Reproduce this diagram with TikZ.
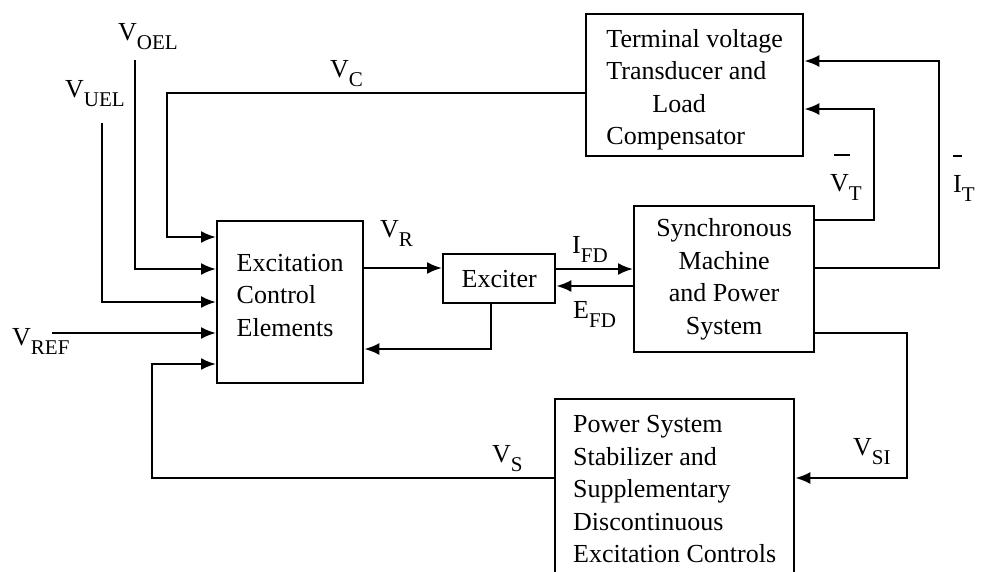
\documentclass[tikz,border=0pt]{standalone}
\usepackage{fontspec}
\setmainfont{Liberation Serif}
\usepackage{tikz}
\usetikzlibrary{arrows.meta,positioning,calc}
\newcommand{\lab}[2]{#1\raisebox{-9pt}{\fontsize{21}{21}\selectfont #2}}
\newcommand{\barre}[2]{\hspace*{#1}\rule[3pt]{#2}{1.8pt}}

\begin{document}
\begin{tikzpicture}[x=1pt,y=-1pt,font=\fontsize{26}{32.5}\selectfont,
  blk/.style={draw,line width=2.3pt,inner sep=0pt},
  sig/.style={line width=2.3pt,-{Latex[length=15pt,width=12pt]}}]
  \useasboundingbox (0,0) rectangle (981,571);
  \clip (0,0) rectangle (981,571);
  % blocs
  \node[blk,minimum width=146,minimum height=162,align=left,anchor=north west] (ece) at (216,220) {Excitation\\Control\\Elements\\[-18pt]\mbox{}};
  \node[blk,minimum width=112,minimum height=49,anchor=north west] (exc) at (442,253) {Exciter};
  \node[blk,minimum width=180,minimum height=146,align=center,anchor=north west] (sm) at (633,205) {Synchronous\\Machine\\and Power\\System};
  \node[blk,minimum width=217,minimum height=142,align=left,anchor=north west] (tvt) at (585,13) {\mbox{}\\[-5pt]Terminal voltage\\Transducer and\\\hspace*{46pt}Load\\Compensator};
  \node[blk,minimum width=239,minimum height=180,align=left,anchor=north west] (pss) at (554,398) {Power System\\Stabilizer and\\Supplementary\\Discontinuous\\Excitation Controls};
  % entrees libres
  \coordinate (voel) at (135,60);
  \coordinate (vuel) at (102,123);
  \coordinate (vref) at (52,333);
  % liaisons
  \draw[sig] (tvt.west |- 0,93) -| (167,237) -- (ece.west |- 0,237);
  \draw[sig] (voel) |- (ece.west |- 0,269);
  \draw[sig] (vuel) |- (ece.west |- 0,302);
  \draw[sig] (vref) -- (ece.west |- 0,333);
  \draw[sig] (pss.west |- 0,478) -| (152,364) -- (ece.west |- 0,364);
  \draw[sig] (ece.east |- 0,268) -- (exc.west |- 0,268);
  \draw[sig] ($(exc.south)+(-8,0)$) |- (ece.east |- 0,349);
  \draw[sig] (exc.east |- 0,269) -- (sm.west |- 0,269);
  \draw[sig] (sm.west |- 0,286) -- (exc.east |- 0,286);
  \draw[sig] (sm.east |- 0,220) -| (874,109) -- (tvt.east |- 0,109);
  \draw[sig] (sm.east |- 0,268) -| (939,61) -- (tvt.east |- 0,61);
  \draw[sig] (sm.east |- 0,333) -| (907,478) -- (pss.east |- 0,478);
  % etiquettes
  \node[anchor=base west,inner sep=0pt] (lvoel) at (118,40) {\lab{V}{OEL}};
  \node[anchor=base west,inner sep=0pt] (lvuel) at (65,97) {\lab{V}{UEL}};
  \node[anchor=base west,inner sep=0pt] (lvc) at (330,77) {\lab{V}{C}};
  \node[anchor=base west,inner sep=0pt] (lvr) at (380,237) {\lab{V}{R}};
  \node[anchor=base west,inner sep=0pt] (lvref) at (12,345) {\lab{V}{REF}};
  \node[anchor=base west,inner sep=0pt] (lifd) at (572,253) {\lab{I}{FD}};
  \node[anchor=base west,inner sep=0pt] (lefd) at (573,318) {\lab{E}{FD}};
  \node[anchor=base west,inner sep=0pt] (lvsi) at (853,455) {\lab{V}{SI}};
  \node[anchor=base west,inner sep=0pt] (lvs) at (492,462) {\lab{V}{S}};
  \node[anchor=base west,inner sep=0pt,align=left] (lvt) at (830,191) {\barre{4pt}{16pt}\\\lab{V}{T}};
  \node[anchor=base west,inner sep=0pt,align=left] (lit) at (953,192) {\barre{0pt}{9pt}\\\lab{I}{T}};
\end{tikzpicture}
\end{document}
